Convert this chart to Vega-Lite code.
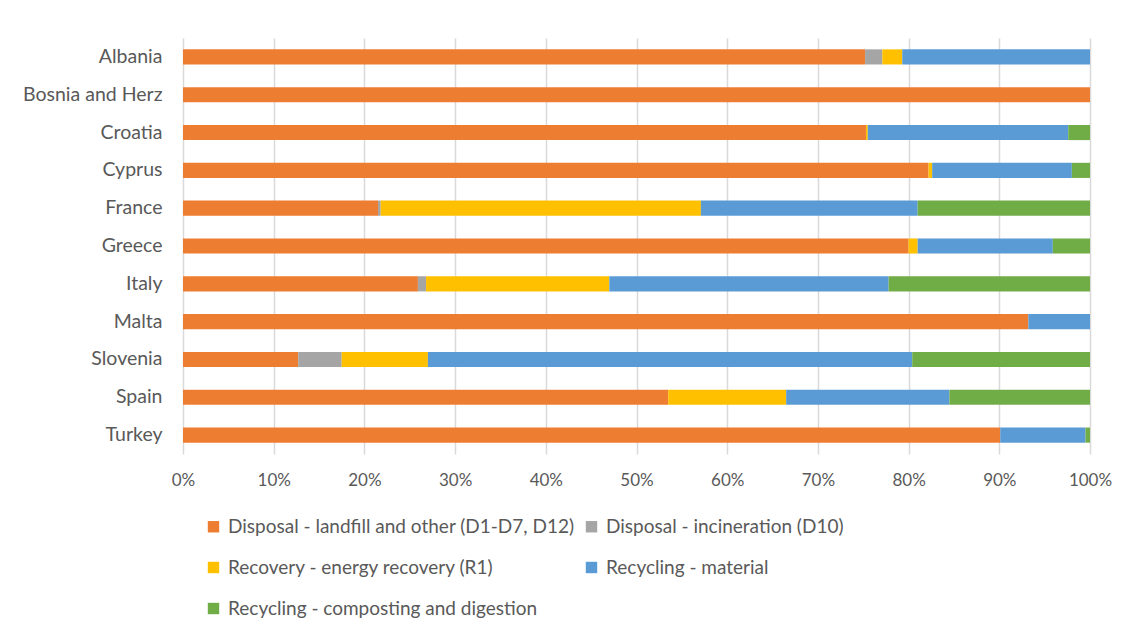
{
  "$schema": "https://vega.github.io/schema/vega-lite/v6.json",
  "autosize": {"type": "none"},
  "width": 907,
  "height": 416,
  "padding": {"left": 183, "top": 38, "right": 38, "bottom": 175},
  "background": "white",
  "config": {
    "view": {"stroke": null},
    "font": "Lato",
    "axis": {"labelColor": "#595959", "labelFont": "Lato"},
    "legend": {"labelColor": "#595959", "labelFont": "Lato"}
  },
  "data": {
    "values": [
      {"country": "Albania", "category": "Disposal - landfill and other (D1-D7, D12)", "value": 75.2},
      {"country": "Albania", "category": "Disposal - incineration (D10)", "value": 1.9},
      {"country": "Albania", "category": "Recovery - energy recovery (R1)", "value": 2.2},
      {"country": "Albania", "category": "Recycling - material", "value": 20.7},
      {"country": "Bosnia and Herz", "category": "Disposal - landfill and other (D1-D7, D12)", "value": 100},
      {"country": "Croatia", "category": "Disposal - landfill and other (D1-D7, D12)", "value": 75.3},
      {"country": "Croatia", "category": "Recovery - energy recovery (R1)", "value": 0.2},
      {"country": "Croatia", "category": "Recycling - material", "value": 22.1},
      {"country": "Croatia", "category": "Recycling - composting and digestion", "value": 2.4},
      {"country": "Cyprus", "category": "Disposal - landfill and other (D1-D7, D12)", "value": 82.2},
      {"country": "Cyprus", "category": "Recovery - energy recovery (R1)", "value": 0.4},
      {"country": "Cyprus", "category": "Recycling - material", "value": 15.4},
      {"country": "Cyprus", "category": "Recycling - composting and digestion", "value": 2.0},
      {"country": "France", "category": "Disposal - landfill and other (D1-D7, D12)", "value": 21.5},
      {"country": "France", "category": "Disposal - incineration (D10)", "value": 0.3},
      {"country": "France", "category": "Recovery - energy recovery (R1)", "value": 35.3},
      {"country": "France", "category": "Recycling - material", "value": 23.9},
      {"country": "France", "category": "Recycling - composting and digestion", "value": 19.0},
      {"country": "Greece", "category": "Disposal - landfill and other (D1-D7, D12)", "value": 80.0},
      {"country": "Greece", "category": "Recovery - energy recovery (R1)", "value": 1.0},
      {"country": "Greece", "category": "Recycling - material", "value": 14.9},
      {"country": "Greece", "category": "Recycling - composting and digestion", "value": 4.1},
      {"country": "Italy", "category": "Disposal - landfill and other (D1-D7, D12)", "value": 25.9},
      {"country": "Italy", "category": "Disposal - incineration (D10)", "value": 0.9},
      {"country": "Italy", "category": "Recovery - energy recovery (R1)", "value": 20.2},
      {"country": "Italy", "category": "Recycling - material", "value": 30.8},
      {"country": "Italy", "category": "Recycling - composting and digestion", "value": 22.2},
      {"country": "Malta", "category": "Disposal - landfill and other (D1-D7, D12)", "value": 93.2},
      {"country": "Malta", "category": "Recycling - material", "value": 6.8},
      {"country": "Slovenia", "category": "Disposal - landfill and other (D1-D7, D12)", "value": 12.7},
      {"country": "Slovenia", "category": "Disposal - incineration (D10)", "value": 4.8},
      {"country": "Slovenia", "category": "Recovery - energy recovery (R1)", "value": 9.5},
      {"country": "Slovenia", "category": "Recycling - material", "value": 53.4},
      {"country": "Slovenia", "category": "Recycling - composting and digestion", "value": 19.6},
      {"country": "Spain", "category": "Disposal - landfill and other (D1-D7, D12)", "value": 53.5},
      {"country": "Spain", "category": "Recovery - energy recovery (R1)", "value": 13.0},
      {"country": "Spain", "category": "Recycling - material", "value": 18.0},
      {"country": "Spain", "category": "Recycling - composting and digestion", "value": 15.5},
      {"country": "Turkey", "category": "Disposal - landfill and other (D1-D7, D12)", "value": 90.1},
      {"country": "Turkey", "category": "Recycling - material", "value": 9.4},
      {"country": "Turkey", "category": "Recycling - composting and digestion", "value": 0.5}
    ]
  },
  "transform": [
    {
      "calculate": "indexof(['Disposal - landfill and other (D1-D7, D12)', 'Disposal - incineration (D10)', 'Recovery - energy recovery (R1)', 'Recycling - material', 'Recycling - composting and digestion'], datum.category)",
      "as": "stackOrder"
    }
  ],
  "mark": {"type": "bar"},
  "encoding": {
    "y": {
      "field": "country",
      "type": "nominal",
      "sort": null,
      "title": null,
      "scale": {"paddingInner": 0.6, "paddingOuter": 0.3},
      "axis": {"ticks": false, "domain": false, "labelFontSize": 19.5, "labelPadding": 21}
    },
    "x": {
      "field": "value",
      "type": "quantitative",
      "stack": "normalize",
      "title": null,
      "scale": {"domain": [0, 1]},
      "axis": {
        "values": [0, 0.1, 0.2, 0.3, 0.4, 0.5, 0.6, 0.7, 0.8, 0.9, 1],
        "format": ".0%",
        "domain": false,
        "ticks": false,
        "grid": true,
        "gridColor": "#D9D9D9",
        "gridWidth": 1.5,
        "labelFontSize": 17,
        "labelPadding": 18,
        "labelFlush": false
      }
    },
    "color": {
      "field": "category",
      "type": "nominal",
      "scale": {
        "domain": [
          "Disposal - landfill and other (D1-D7, D12)",
          "Recovery - energy recovery (R1)",
          "Recycling - composting and digestion",
          "Disposal - incineration (D10)",
          "Recycling - material"
        ],
        "range": ["#ED7D31", "#FFC000", "#70AD47", "#A5A5A5", "#5B9BD5"]
      },
      "legend": {
        "title": null,
        "orient": "none",
        "legendX": 21,
        "legendY": 479,
        "columns": 2,
        "symbolType": "square",
        "symbolSize": 130,
        "symbolStrokeWidth": 0,
        "labelFontSize": 19,
        "labelOffset": 5,
        "rowPadding": 21,
        "columnPadding": 7,
        "labelLimit": 500
      }
    },
    "order": {"field": "stackOrder", "type": "quantitative", "sort": "ascending"}
  }
}
